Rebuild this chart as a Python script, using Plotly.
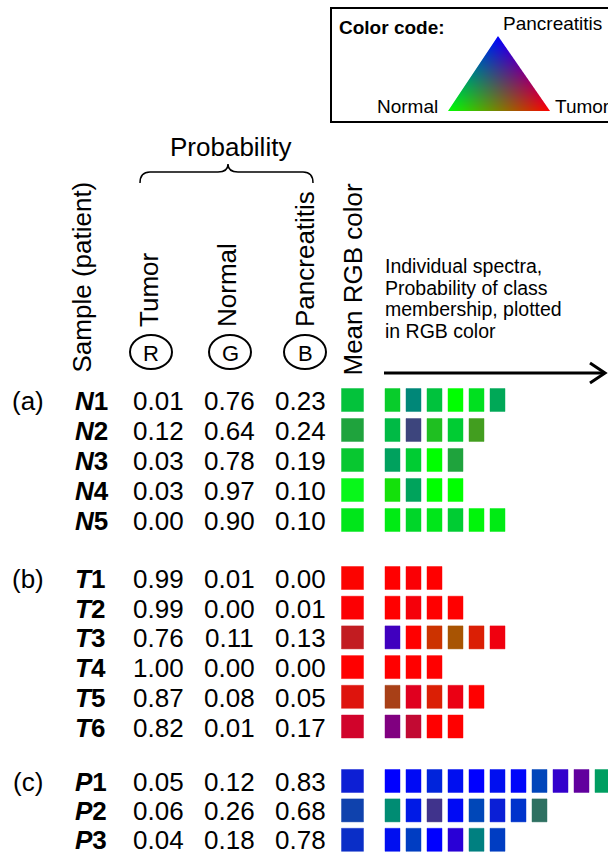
import numpy as np
import plotly.graph_objects as go

# ---------------- data ----------------
groups = ["(a)", "(b)", "(c)"]
samples = [["N1", "N2", "N3", "N4", "N5"],
           ["T1", "T2", "T3", "T4", "T5", "T6"],
           ["P1", "P2", "P3"]]
tumor = [[0.01, 0.12, 0.03, 0.03, 0.00],
         [0.99, 0.99, 0.76, 1.00, 0.87, 0.82],
         [0.05, 0.06, 0.04]]
normal = [[0.76, 0.64, 0.78, 0.97, 0.90],
          [0.01, 0.00, 0.11, 0.00, 0.08, 0.01],
          [0.12, 0.26, 0.18]]
pancreatitis = [[0.23, 0.24, 0.19, 0.10, 0.10],
                [0.00, 0.01, 0.13, 0.00, 0.05, 0.17],
                [0.83, 0.68, 0.78]]
# individual spectra: (tumor, normal, pancreatitis) probabilities
spectra = [
    [  # N
        [(0.03, 0.80, 0.17), (0.0, 0.53, 0.47), (0.0, 0.76, 0.24), (0.0, 1.0, 0.0), (0.0, 0.88, 0.12), (0.0, 0.66, 0.34)],
        [(0.0, 0.73, 0.27), (0.24, 0.27, 0.49), (0.12, 0.75, 0.13), (0.0, 0.80, 0.20), (0.26, 0.62, 0.12)],
        [(0.0, 0.63, 0.37), (0.0, 0.80, 0.20), (0.0, 1.0, 0.0), (0.12, 0.64, 0.24)],
        [(0.08, 0.88, 0.04), (0.0, 0.64, 0.36), (0.0, 1.0, 0.0), (0.0, 1.0, 0.0)],
        [(0.0, 0.92, 0.08), (0.0, 0.84, 0.16), (0.0, 0.90, 0.10), (0.0, 0.80, 0.20), (0.0, 0.96, 0.04), (0.0, 0.92, 0.08)],
    ],
    [  # T
        [(1.0, 0.0, 0.0), (0.98, 0.0, 0.02), (1.0, 0.0, 0.0)],
        [(1.0, 0.0, 0.0), (0.96, 0.0, 0.04), (1.0, 0.0, 0.0), (1.0, 0.0, 0.0)],
        [(0.25, 0.0, 0.75), (1.0, 0.0, 0.0), (0.80, 0.20, 0.0), (0.66, 0.33, 0.01), (0.86, 0.12, 0.02), (0.94, 0.0, 0.06)],
        [(1.0, 0.0, 0.0), (1.0, 0.0, 0.0), (1.0, 0.0, 0.0)],
        [(0.66, 0.25, 0.09), (0.88, 0.0, 0.12), (0.86, 0.12, 0.02), (0.92, 0.0, 0.08), (1.0, 0.0, 0.0)],
        [(0.50, 0.0, 0.50), (0.76, 0.04, 0.20), (1.0, 0.0, 0.0), (1.0, 0.0, 0.0)],
    ],
    [  # P
        [(0.0, 0.0, 1.0), (0.0, 0.04, 0.96), (0.0, 0.14, 0.86), (0.0, 0.06, 0.94), (0.0, 0.0, 1.0), (0.0, 0.06, 0.94),
         (0.0, 0.02, 0.98), (0.0, 0.27, 0.73), (0.20, 0.0, 0.80), (0.38, 0.0, 0.62), (0.0, 0.62, 0.38)],
        [(0.0, 0.55, 0.45), (0.0, 0.10, 0.90), (0.25, 0.20, 0.55), (0.0, 0.04, 0.96), (0.0, 0.28, 0.72),
         (0.04, 0.12, 0.84), (0.0, 0.20, 0.80), (0.18, 0.44, 0.38)],
        [(0.0, 0.06, 0.94), (0.0, 0.24, 0.76), (0.0, 0.0, 1.0), (0.16, 0.0, 0.84), (0.0, 0.50, 0.50), (0.0, 0.24, 0.76)],
    ],
]
prob_headers = ["Tumor", "Normal", "Pancreatitis"]
channel_letters = ["R", "G", "B"]
legend_labels = ["Pancreatitis", "Normal", "Tumor"]

# ---------------- layout constants ----------------
W, H = 608, 854
FONT = "Liberation Sans, Arial, Helvetica, sans-serif"
BIG = 26
group_y0 = [400, 578, 781]
group_step = [30.0, 29.7, 29.4]
col_x = [158, 229, 300]
head_x = [149, 227, 305]
circle_x = [151, 230, 305]
label_x = 73
group_x = 28
mean_x = 352.5
mean_w, sq_h = 22, 23
ind_x0, ind_step, ind_w = 392.5, 21, 15


def rgb(p, a=1.0):
    r, g, b = [int(round(255 * min(max(v, 0), 1))) for v in p]
    return f"rgba({r},{g},{b},{a})"


fig = go.Figure()
shapes = []
ann = []


def text(x, y, s, size=BIG, xa="center", ya="middle", angle=0, color="black"):
    ann.append(dict(x=x, y=y, text=s, showarrow=False, xanchor=xa, yanchor=ya,
                    textangle=angle, font=dict(size=size, color=color, family=FONT)))


def rect(xc, yc, w, h, p):
    shapes.append(dict(type="rect", x0=xc - w / 2, x1=xc + w / 2, y0=yc - h / 2, y1=yc + h / 2,
                       fillcolor=rgb(p), line=dict(color=rgb(p, 0.45), width=1)))


for g, gname in enumerate(groups):
    for i, s in enumerate(samples[g]):
        y = group_y0[g] + i * group_step[g]
        ty = min(y + 1, 839.5)
        if i == 0:
            text(group_x, ty, gname)
        text(label_x, ty, f"<b><i>{s[0]}</i>{s[1:]}</b>", xa="left")
        vals = [tumor[g][i], normal[g][i], pancreatitis[g][i]]
        for c, v in enumerate(vals):
            text(col_x[c], ty, f"{v:.2f}")
        rect(mean_x, y, mean_w, sq_h, vals)
        for k, p in enumerate(spectra[g][i]):
            rect(ind_x0 + k * ind_step, y, ind_w, sq_h, p)

# headers
text(81, 375, "Sample (patient)", angle=-90, ya="bottom")
for c, h in enumerate(prob_headers):
    text(head_x[c], 329, h, angle=-90, ya="bottom")
    cx = circle_x[c]
    shapes.append(dict(type="circle", x0=cx - 21, x1=cx + 21, y0=352 - 17, y1=352 + 17,
                       line=dict(color="black", width=2)))
    text(cx, 353, channel_letters[c], size=22)
text(352, 378, "Mean RGB color", angle=-90, ya="bottom")
text(230, 147, "Probability")
shapes.append(dict(type="path",
                   path="M 140,183 Q 140,172 150,172 L 218,172 Q 228,172 228,164 Q 228,172 238,172 "
                        "L 303,172 Q 313,172 313,183",
                   line=dict(color="black", width=1.5)))

# description + arrow
desc = ["Individual spectra,", "Probability of class", "membership, plotted", "in RGB color"]
for j, line in enumerate(desc):
    text(383, 266 + j * 21.7, line, size=19.5, xa="left")
shapes.append(dict(type="line", x0=384, x1=605, y0=373, y1=373, line=dict(color="black", width=3)))
shapes.append(dict(type="path", path="M 590,363 L 605,373 L 590,383", line=dict(color="black", width=3)))

# color-code box
shapes.append(dict(type="rect", x0=331, x1=660, y0=8, y1=122, line=dict(color="black", width=2),
                   fillcolor="rgba(0,0,0,0)"))
text(337, 27, "<b>Color code:</b>", size=19, xa="left")
text(501, 23, legend_labels[0], size=19, xa="left")
text(440, 106, legend_labels[1], size=19, xa="right")
text(553, 106, legend_labels[2], size=19, xa="left")

# gradient triangle (barycentric RGB)
A = np.array([498.0, 36.0])   # pancreatitis -> blue
Lv = np.array([448.0, 111.0])  # normal -> green
Rv = np.array([550.0, 111.0])  # tumor -> red
xs0, ys0 = 445, 33
nx, ny = 109, 81
ss = 4
xx, yy = np.meshgrid(xs0 + (np.arange(nx * ss) + 0.5) / ss, ys0 + (np.arange(ny * ss) + 0.5) / ss)
den = (Lv[1] - Rv[1]) * (A[0] - Rv[0]) + (Rv[0] - Lv[0]) * (A[1] - Rv[1])
wa = ((Lv[1] - Rv[1]) * (xx - Rv[0]) + (Rv[0] - Lv[0]) * (yy - Rv[1])) / den
wl = ((Rv[1] - A[1]) * (xx - Rv[0]) + (A[0] - Rv[0]) * (yy - Rv[1])) / den
wr = 1 - wa - wl
inside = (wa >= 0) & (wl >= 0) & (wr >= 0)
rgba = np.zeros((ny * ss, nx * ss, 4))
rgba[..., 0] = np.clip(wr, 0, 1) * 255 * inside
rgba[..., 1] = np.clip(wl, 0, 1) * 255 * inside
rgba[..., 2] = np.clip(wa, 0, 1) * 255 * inside
rgba[..., 3] = inside.astype(float)
img = rgba.reshape(ny, ss, nx, ss, 4).mean(axis=(1, 3))
alpha = img[..., 3:4]
img[..., :3] = np.where(alpha > 0, img[..., :3] / np.maximum(alpha, 1e-9), 0)
fig.add_trace(go.Image(z=img, colormodel="rgba", zmin=[0, 0, 0, 0], zmax=[255, 255, 255, 1],
                       x0=xs0 + 0.5, y0=ys0 + 0.5, dx=1, dy=1, hoverinfo="skip"))

fig.update_layout(
    width=W, height=H, margin=dict(l=0, r=0, t=0, b=0),
    paper_bgcolor="white", plot_bgcolor="white",
    xaxis=dict(range=[0, W], visible=False, fixedrange=True),
    yaxis=dict(range=[H, 0], visible=False, fixedrange=True),
    shapes=shapes, annotations=ann, showlegend=False,
)
fig.write_html("out.html")
